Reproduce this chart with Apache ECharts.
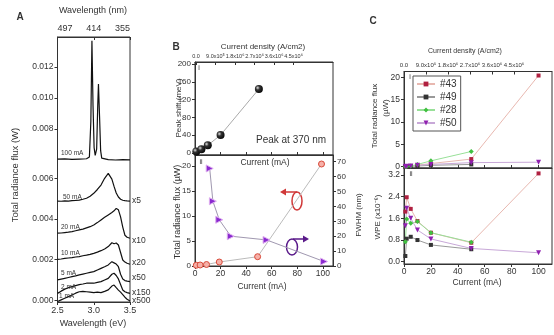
<!DOCTYPE html>
<html><head><meta charset="utf-8">
<script src="https://cdn.jsdelivr.net/npm/echarts@6/dist/echarts.min.js"></script>
<style>html,body{margin:0;padding:0;background:#fff}#c{width:554px;height:335px}</style>
</head><body><div id="c"></div>
<script>
// ---------- Panel A: spectra ----------
const energyLow = [2.5,2.55,2.6,2.65,2.7,2.75,2.8,2.85,2.9,2.95,3.0,3.05,3.1,3.15,3.2,3.25,3.28,3.31,3.34,3.37,3.4,3.43,3.46,3.5];
const flux50mA = [.00488,.00487,.00489,.00488,.0049,.00491,.00493,.00497,.00502,.00512,.00526,.00545,.00567,.006,.00624,.00596,.0056,.00528,.00508,.00497,.00492,.0049,.00489,.00488];
const flux20mA = [.0033,.00331,.00333,.00335,.00338,.00342,.00346,.0035,.00356,.00362,.0037,.00382,.00395,.00408,.0042,.00432,.0044,.00452,.00445,.0041,.0036,.0032,.0031,.00305];
const flux10mA = [.00201,.00203,.00206,.00208,.0021,.00213,.00215,.00219,.00222,.00226,.00231,.00237,.00244,.00252,.00264,.00283,.00278,.00282,.00272,.00235,.00198,.00188,.00182,.00177];
const flux5mA  = [.0010,.00104,.00108,.00112,.00116,.0012,.00125,.00129,.00133,.00137,.00141,.00149,.00157,.00165,.00174,.0019,.00184,.00178,.00165,.00128,.00105,.00097,.00094,.00092];
const flux2mA  = [.00034,.00045,.00055,.00062,.00067,.00072,.00077,.0008,.00084,.00085,.00084,.00088,.00092,.001,.00108,.00128,.00133,.00122,.00105,.00078,.00051,.00042,.00038,.00034];
const flux1mA  = [-.00006,.00002,.0001,.00018,.00026,.00035,.00042,.00044,.00042,.0004,.00038,.0004,.00038,.00044,.00051,.0007,.00075,.00062,.0005,.0004,.00028,.00015,.00005,-.00004];
const energy100 = [2.5,2.6,2.7,2.8,2.9,2.94,2.96,2.975,2.99,3.005,3.02,3.04,3.055,3.065,3.08,3.095,3.11,3.2,3.3,3.4,3.5];
const flux100mA = [.00605,.00607,.00604,.00606,.00608,.0062,.0085,.0137,.0095,.0068,.0063,.0067,.0095,.0109,.0088,.0066,.00612,.00602,.006,.00603,.00601];
const energyTicks = [2.5,3.0,3.5];
const wavelengthLabels = ['497','414','355'];
const fluxTicksLow = [0,0.002,0.004,0.006];
const fluxTicksUp = [0.008,0.010,0.012];

// ---------- Panel B ----------
const shiftCurrent = [1,5,10,20,50];
const peakShift = [3,8,17,40,144];
const fluxCurrentB = [1,4,9,19,49,99];
const fluxB = [0.15,0.2,0.3,0.8,1.86,20.4];
const fwhmCurrent = [11.5,14,19,28,56,101];
const fwhmB = [65.5,43.5,31,20,17.5,3];
const densityTicks = [0,9e5,1.8e6,2.7e6,3.6e6,4.5e6];
const densityLabels = ['0.0','9.0x10\u2075','1.8x10\u2076','2.7x10\u2076','3.6x10\u2076','4.5x10\u2076'];

// ---------- Panel C ----------
const currentC = [1,2,5,10,20,50,100];
const fluxC43 = [0.03,0.08,0.15,0.35,0.7,1.7,20.4];
const fluxC49 = [0.01,0.03,0.08,0.15,0.3,0.5,null];
const fluxC28 = [0.02,0.06,0.15,0.5,1.3,3.4,null];
const fluxC50 = [0.02,0.07,0.15,0.3,0.5,0.9,1.0];
const wpe43 = [1.85,2.38,1.95,1.5,1.07,0.7,3.26];
const wpe49 = [0.21,0.85,0.92,0.8,0.62,0.46,null];
const wpe28 = [0.74,1.58,1.42,1.48,1.07,0.72,null];
const wpe50 = [1.33,1.97,1.6,1.17,0.84,0.49,0.33];

const FONT = '"Liberation Sans", Arial, sans-serif';
const TXT = '#333';
const pts = (xs, ys) => xs.map((x, i) => [x, ys[i]]);

function ax(o) {
  const base = {
    type: 'value', splitLine: {show: false},
    axisLine: {show: true, onZero: false, lineStyle: {color: '#333', width: 1}},
    axisTick: {show: true, length: 3, lineStyle: {color: '#333'}},
    axisLabel: {color: TXT, fontFamily: FONT, fontSize: 8, margin: 4}
  };
  const r = Object.assign({}, base, o);
  r.axisLine = Object.assign({}, base.axisLine, o.axisLine || {});
  r.axisTick = Object.assign({}, base.axisTick, o.axisTick || {});
  r.axisLabel = Object.assign({}, base.axisLabel, o.axisLabel || {});
  return r;
}
function T(text, x, y, size, opts) {
  opts = opts || {};
  return {type: 'text', x: x, y: y, rotation: opts.rot || 0, z: 10, silent: true,
    style: {text: text, fill: opts.color || TXT, font: (opts.bold ? 'bold ' : '') + size + 'px ' + FONT,
      textAlign: opts.align || 'center', textVerticalAlign: 'middle', align: opts.align || 'center', verticalAlign: 'middle'}};
}
const border = {show: true, borderColor: '#333', borderWidth: 1, backgroundColor: 'transparent'};
const sphere = {type: 'radial', x: 0.35, y: 0.35, r: 0.75, colorStops: [{offset: 0, color: '#e0e0e0'}, {offset: 0.35, color: '#333'}, {offset: 1, color: '#000'}]};

const option = {
  animation: false,
  backgroundColor: '#fff',
  grid: [
    {left: 57.5, top: 165, width: 72.5, height: 137},
    {left: 57.5, top: 37, width: 72.5, height: 128},
    Object.assign({left: 195, top: 62, width: 138, height: 93}, border),
    Object.assign({left: 195, top: 155, width: 138, height: 111}, border),
    Object.assign({left: 404, top: 71.5, width: 148, height: 96.5}, border),
    Object.assign({left: 404, top: 168, width: 148, height: 96}, border)
  ],
  xAxis: [
    ax({gridIndex: 0, min: 2.5, max: 3.5, axisLabel: {customValues: energyTicks, fontSize: 9, formatter: v => v.toFixed(1)}, axisTick: {customValues: energyTicks}}),
    ax({gridIndex: 1, position: 'top', min: 2.5, max: 3.5, axisLabel: {customValues: energyTicks, fontSize: 9, alignMinLabel: 'left', alignMaxLabel: 'right', formatter: v => wavelengthLabels[energyTicks.indexOf(v)]}, axisTick: {customValues: energyTicks, inside: true}}),
    ax({gridIndex: 2, min: 0, max: 108, axisLabel: {show: false}, axisTick: {customValues: [0,20,40,60,80,100], inside: true}}),
    ax({gridIndex: 2, position: 'top', min: -4.6e4, max: 6.32e6, axisLabel: {customValues: densityTicks, fontSize: 5.5, margin: 3, formatter: v => densityLabels[densityTicks.indexOf(v)]}, axisTick: {customValues: densityTicks, inside: true}}),
    ax({gridIndex: 3, min: 0, max: 108, axisLabel: {customValues: [0,20,40,60,80,100], fontSize: 8.5, margin: 3}, axisTick: {customValues: [0,20,40,60,80,100]}}),
    ax({gridIndex: 4, min: 0, max: 110, axisLabel: {show: false}, axisTick: {customValues: [0,20,40,60,80,100], inside: true}}),
    ax({gridIndex: 4, position: 'top', min: 0, max: 6.05e6, axisLabel: {customValues: densityTicks, fontSize: 6, margin: 3, formatter: v => densityLabels[densityTicks.indexOf(v)]}, axisTick: {customValues: densityTicks, inside: true}}),
    ax({gridIndex: 5, min: 0, max: 110, axisLabel: {customValues: [0,20,40,60,80,100], fontSize: 8.5, margin: 3}, axisTick: {customValues: [0,20,40,60,80,100]}})
  ],
  yAxis: [
    ax({gridIndex: 0, min: -0.000084, max: 0.006654, axisLabel: {customValues: fluxTicksLow, fontSize: 8.5, formatter: v => v.toFixed(3)}, axisTick: {customValues: fluxTicksLow}}),
    ax({gridIndex: 1, min: 0.005677, max: 0.013935, axisLabel: {customValues: fluxTicksUp, fontSize: 8.5, formatter: v => v.toFixed(3)}, axisTick: {customValues: fluxTicksUp}}),
    ax({gridIndex: 2, min: -5, max: 205, axisLabel: {customValues: [0,40,80,120,160,200], fontSize: 8}, axisTick: {customValues: [0,40,80,120,160,200]}}),
    ax({gridIndex: 3, min: 0, max: 22.2, axisLabel: {customValues: [0,5,10,15,20], fontSize: 8}, axisTick: {customValues: [0,5,10,15,20]}}),
    ax({gridIndex: 3, position: 'right', min: 0, max: 74.5, axisLabel: {customValues: [0,10,20,30,40,50,60,70], fontSize: 8}, axisTick: {customValues: [0,10,20,30,40,50,60,70]}}),
    ax({gridIndex: 4, min: -0.3, max: 21.3, axisLabel: {customValues: [0,5,10,15,20], fontSize: 8.5}, axisTick: {customValues: [0,5,10,15,20]}}),
    ax({gridIndex: 5, min: -0.085, max: 3.46, axisLabel: {customValues: [0,0.8,1.6,2.4,3.2], fontSize: 8.5, formatter: v => v.toFixed(1)}, axisTick: {customValues: [0,0.8,1.6,2.4,3.2]}})
  ],
  legend: {
    data: ['#43','#49','#28','#50'], orient: 'vertical', left: 413, top: 76,
    itemWidth: 18, itemHeight: 6, itemGap: 3,
    textStyle: {fontFamily: FONT, fontSize: 10, color: TXT},
    borderColor: '#555', borderWidth: 1, padding: [3, 4, 3, 3], backgroundColor: '#fff'
  },
  series: [
    ...[flux50mA, flux20mA, flux10mA, flux5mA, flux2mA, flux1mA].map(f => ({
      type: 'line', xAxisIndex: 0, yAxisIndex: 0, data: pts(energyLow, f), symbol: 'none', silent: true,
      lineStyle: {color: '#111', width: 1.2}})),
    {type: 'line', xAxisIndex: 1, yAxisIndex: 1, data: pts(energy100, flux100mA), symbol: 'none', silent: true, lineStyle: {color: '#111', width: 1.2}},
    {type: 'line', xAxisIndex: 2, yAxisIndex: 2, data: pts(shiftCurrent, peakShift), symbol: 'circle', symbolSize: 8,
      itemStyle: {color: sphere}, lineStyle: {color: '#aaa', width: 1}},
    {type: 'line', xAxisIndex: 4, yAxisIndex: 3, data: pts(fluxCurrentB, fluxB), symbol: 'circle', symbolSize: 6,
      itemStyle: {color: '#f6b0a8', borderColor: '#d84a3a', borderWidth: 1}, lineStyle: {color: '#bbb', width: 1}},
    {type: 'line', xAxisIndex: 4, yAxisIndex: 4, data: pts(fwhmCurrent, fwhmB), symbol: 'triangle', symbolRotate: -90, symbolSize: 7,
      itemStyle: {color: '#8a2ad0', borderColor: '#e0b0f0', borderWidth: 1}, lineStyle: {color: '#a098b0', width: 1}},
    {name: '#43', type: 'line', xAxisIndex: 5, yAxisIndex: 5, data: pts(currentC, fluxC43), symbol: 'rect', symbolSize: 4, itemStyle: {color: '#b02040'}, lineStyle: {color: '#e8b8b0', width: 1}},
    {name: '#49', type: 'line', xAxisIndex: 5, yAxisIndex: 5, data: pts(currentC, fluxC49), symbol: 'rect', symbolSize: 4, itemStyle: {color: '#333'}, lineStyle: {color: '#999', width: 1}},
    {name: '#28', type: 'line', xAxisIndex: 5, yAxisIndex: 5, data: pts(currentC, fluxC28), symbol: 'diamond', symbolSize: 5, itemStyle: {color: '#40c040'}, lineStyle: {color: '#98e098', width: 1}},
    {name: '#50', type: 'line', xAxisIndex: 5, yAxisIndex: 5, data: pts(currentC, fluxC50), symbol: 'triangle', symbolRotate: 180, symbolSize: 5, itemStyle: {color: '#9020b0'}, lineStyle: {color: '#c8a8d8', width: 1}},
    {name: '#43', type: 'line', xAxisIndex: 7, yAxisIndex: 6, data: pts(currentC, wpe43), symbol: 'rect', symbolSize: 4, itemStyle: {color: '#b02040'}, lineStyle: {color: '#e8b8b0', width: 1}},
    {name: '#49', type: 'line', xAxisIndex: 7, yAxisIndex: 6, data: pts(currentC, wpe49), symbol: 'rect', symbolSize: 4, itemStyle: {color: '#333'}, lineStyle: {color: '#999', width: 1}},
    {name: '#28', type: 'line', xAxisIndex: 7, yAxisIndex: 6, data: pts(currentC, wpe28), symbol: 'diamond', symbolSize: 5, itemStyle: {color: '#40c040'}, lineStyle: {color: '#98e098', width: 1}},
    {name: '#50', type: 'line', xAxisIndex: 7, yAxisIndex: 6, data: pts(currentC, wpe50), symbol: 'triangle', symbolRotate: 180, symbolSize: 5, itemStyle: {color: '#9020b0'}, lineStyle: {color: '#c8a8d8', width: 1}}
  ],
  graphic: [
    {type: 'rect', shape: {x: 57.5, y: 37, width: 72.5, height: 265}, style: {fill: 'none', stroke: '#333', lineWidth: 1}, silent: true},
    T('A', 20, 17, 10, {bold: true}),
    T('Wavelength (nm)', 93, 11, 9),
    T('Wavelength (eV)', 93, 324, 9),
    T('Total radiance flux (W)', 15, 175, 9.5, {rot: Math.PI / 2}),
    T('100 mA', 61, 153, 6.5, {align: 'left'}),
    T('50 mA', 63, 197, 6.5, {align: 'left'}),
    T('20 mA', 61, 227, 6.5, {align: 'left'}),
    T('10 mA', 61, 253, 6.5, {align: 'left'}),
    T('5 mA', 61, 273, 6.5, {align: 'left'}),
    T('2 mA', 61, 287, 6.5, {align: 'left'}),
    T('1 mA', 59, 296, 6.5, {align: 'left'}),
    T('x5', 132, 201, 8.5, {align: 'left'}),
    T('x10', 132, 241, 8.5, {align: 'left'}),
    T('x20', 132, 263, 8.5, {align: 'left'}),
    T('x50', 132, 278, 8.5, {align: 'left'}),
    T('x150', 132, 293, 8.5, {align: 'left'}),
    T('x500', 132, 301, 8.5, {align: 'left'}),
    T('B', 176, 47, 10, {bold: true}),
    T('Current density (A/cm2)', 263, 47, 8),
    T('i', 199, 68, 7),
    T('Peak at 370 nm', 291, 140, 10),
    T('Peak shift (meV)', 179, 108, 8, {rot: Math.PI / 2}),
    T('ii', 201, 162, 7),
    T('Current (mA)', 265, 163, 8.5),
    T('Total radiance flux (\u00b5W)', 178, 212, 9, {rot: Math.PI / 2}),
    T('FWHM (nm)', 359, 215, 8, {rot: Math.PI / 2}),
    T('Current (mA)', 262, 287, 8.5),
    {type: 'ellipse', shape: {cx: 297, cy: 201, rx: 5, ry: 9}, style: {fill: 'none', stroke: '#d03838', lineWidth: 1.5}, silent: true},
    {type: 'polyline', shape: {points: [[297, 192], [284, 192]]}, style: {stroke: '#d03838', lineWidth: 1.5}, silent: true},
    {type: 'polygon', shape: {points: [[280, 192], [286, 188.5], [286, 195.5]]}, style: {fill: '#d03838'}, silent: true},
    {type: 'ellipse', shape: {cx: 292, cy: 247, rx: 5.5, ry: 8}, style: {fill: 'none', stroke: '#5a1a8a', lineWidth: 1.5}, silent: true},
    {type: 'polyline', shape: {points: [[293, 239], [305, 239]]}, style: {stroke: '#5a1a8a', lineWidth: 1.5}, silent: true},
    {type: 'polygon', shape: {points: [[309, 239], [303, 235.5], [303, 242.5]]}, style: {fill: '#5a1a8a'}, silent: true},
    T('C', 373, 21, 10, {bold: true}),
    T('Current density (A/cm2)', 465, 51, 7),
    T('i', 410, 77, 7),
    T('ii', 411, 174, 7),
    T('Total radiance flux', 375, 116, 8, {rot: Math.PI / 2}),
    T('(\u00b5W)', 386, 108, 8, {rot: Math.PI / 2}),
    T('WPE (x10\u207b\u2076)', 378, 217, 8, {rot: Math.PI / 2}),
    T('Current (mA)', 477, 283, 8.5)
  ]
};
const chart = echarts.init(document.getElementById('c'));
chart.setOption(option);
</script></body></html>
